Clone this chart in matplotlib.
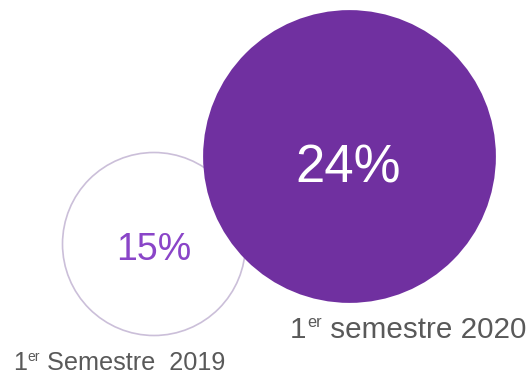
import matplotlib
matplotlib.use("Agg")
import matplotlib.pyplot as plt
from matplotlib.patches import Circle

plt.rcParams['font.family'] = ['Liberation Sans', 'DejaVu Sans']

# Data
period_ordinal = ["1", "1"]
period_suffix = ["er", "er"]
period_rest = [" Semestre  2019", " semestre 2020"]
values = [15, 24]
value_labels = ["15%", "24%"]

# Layout (pixel space)
W, H = 530, 374
centers = [(154, 244), (349.5, 156.5)]
scale = 6.1  # radius pixels per percentage point
label_start = [(13, 370), (290, 338)]  # left x, baseline y
label_sizes = [18.2, 21.3]
value_sizes = [27, 38]

fig = plt.figure(figsize=(W / 100, H / 100), dpi=100)
ax = fig.add_axes([0, 0, 1, 1])
ax.set_xlim(0, W)
ax.set_ylim(H, 0)
ax.set_aspect('equal')
ax.axis('off')

c0 = Circle(centers[0], values[0] * scale, facecolor='white',
            edgecolor='#cbbfd9', linewidth=1.2, zorder=1)
ax.add_patch(c0)
c1 = Circle(centers[1], values[1] * scale, facecolor='#7030a0',
            edgecolor='none', zorder=2)
ax.add_patch(c1)

ax.text(centers[0][0], centers[0][1] + 6, value_labels[0], ha='center', va='center',
        fontsize=value_sizes[0], color='#8a45c8', zorder=3)
ax.text(centers[1][0] - 1, centers[1][1] + 12, value_labels[1], ha='center', va='center',
        fontsize=value_sizes[1], color='white', zorder=3)

grey = '#595959'
for (x, y), o, s, r, fs in zip(label_start, period_ordinal, period_suffix, period_rest, label_sizes):
    t1 = ax.text(x, y, o, ha='left', va='baseline', fontsize=fs, color=grey, zorder=3)
    t2 = ax.annotate(s, xy=(1, 1), xycoords=t1, xytext=(0.5, 0.5), textcoords='offset points',
                     ha='left', va='top', fontsize=fs * 0.55, color=grey, zorder=3)
    ax.annotate(r, xy=(1, 0), xycoords=(t2, t1), ha='left', va='bottom',
                fontsize=fs, color=grey, zorder=3)

fig.savefig('out.png', dpi=100)
